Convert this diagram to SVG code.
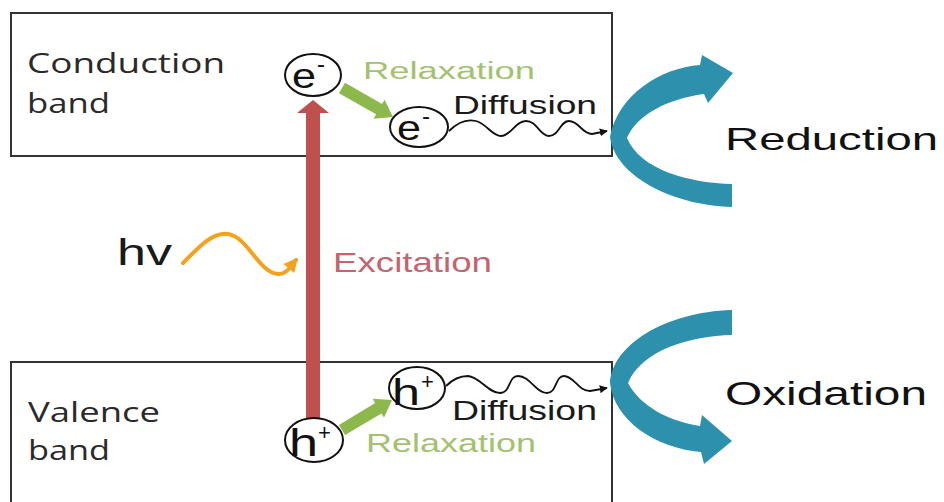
<svg xmlns="http://www.w3.org/2000/svg" width="944" height="502" viewBox="0 0 944 502">
<style>
.box{fill:#fff;stroke:#333;stroke-width:2}
.band{font-family:"Open Sans","DejaVu Sans",sans-serif;font-size:27px;fill:#2a2a2a}
.lbl{font-family:"Liberation Sans",Arial,sans-serif}
.pc{fill:#fff;stroke:#111;stroke-width:2}
.ch{font-family:"Liberation Sans",Arial,sans-serif;fill:#111}
.wave{fill:none;stroke:#111;stroke-width:1.8}
.green{fill:#8cb84c}
.blue{fill:#2d91ae}
</style>
<defs>
<marker id="blk" viewBox="0 0 10 10" refX="9" refY="5" markerWidth="8" markerHeight="8" orient="auto" markerUnits="userSpaceOnUse">
<path d="M0,0 L10,5 L0,10 Z" fill="#111"/>
</marker>
<marker id="org" viewBox="0 0 10 10" refX="8" refY="5" markerWidth="16" markerHeight="14" orient="auto" markerUnits="userSpaceOnUse">
<path d="M0,0 L10,5 L0,10 Z" fill="#f4a11d"/>
</marker>
</defs>

<g id="conduction-band">
<rect class="box" x="11" y="13" width="601" height="143"/>
<text class="band" x="27" y="73" textLength="198" lengthAdjust="spacingAndGlyphs">Conduction</text>
<text class="band" x="27" y="113" textLength="83" lengthAdjust="spacingAndGlyphs">band</text>
</g>
<g id="valence-band">
<rect class="box" x="11" y="362" width="601" height="145"/>
<text class="band" x="28" y="422" textLength="132" lengthAdjust="spacingAndGlyphs">Valence</text>
<text class="band" x="28" y="460" textLength="82" lengthAdjust="spacingAndGlyphs">band</text>
</g>

<g id="connectors">
<path id="excitation-arrow" d="M306,419 L306,113 L297,113 L313,100 L329,113 L320,113 L320,419 Z" fill="#c0504d"/>
<polygon id="relax-e" class="green" points="345.0,82.8 382.1,103.9 384.5,99.7 393,117 373.7,118.7 376.1,114.3 339.0,93.2"/>
<polygon id="relax-h" class="green" points="338.9,424.9 375.2,403.1 372.6,398.8 392,400 384.0,417.6 381.4,413.4 345.1,435.1"/>
<path id="diff-e" class="wave" marker-end="url(#blk)" d="M449,131 C458,122 468,119 476,121 C487,124 492,136 501,136 C511,136 515,121 526,121 C537,121 540,136 549,136 C559,136 560,121 569,121 C579,121 582,134 592,134 L607,131"/>
<path id="diff-h" class="wave" marker-end="url(#blk)" d="M446,386 C454,378 462,376 468,376 C480,377 488,393 500,393 C511,393 508,376 518,376 C530,376 536,393 547,393 C557,393 555,376 564,376 C574,376 578,391 590,391 L607,388"/>
<path id="photon" d="M183,263 C198,248 212,232 228,234 C248,237 258,272 278,274 C286,275 291,266 296,260" fill="none" stroke="#f4a11d" stroke-width="4" stroke-linecap="round" marker-end="url(#org)"/>
<path id="reduction-arrow" class="blue" d="M732,184 C690,183 640,170 627,138 C636,116 666,99 704,94 L708,103 L733,73 L702,55 L700,65 C660,68 618,95 610,137 C615,175 670,205 732,207 Z"/>
<path id="oxidation-arrow" class="blue" d="M732,335 C690,336 642,350 628,383 C641,407 669,421 700,426 L702,415 L732,441 L704,464 L701,452 C655,448 614,420 610,383 C612,345 665,312 732,310 Z"/>
</g>

<g id="electron-excited">
<ellipse class="pc" cx="313" cy="75" rx="28" ry="21"/>
<text class="ch" x="292" y="88" font-size="35" textLength="24" lengthAdjust="spacingAndGlyphs">e</text>
<text class="ch" x="317" y="72" font-size="24">-</text>
</g>
<g id="electron-relaxed">
<ellipse class="pc" cx="419" cy="127" rx="29" ry="20"/>
<text class="ch" x="397" y="140" font-size="35" textLength="24" lengthAdjust="spacingAndGlyphs">e</text>
<text class="ch" x="422" y="124" font-size="24">-</text>
</g>
<g id="hole-initial">
<ellipse class="pc" cx="314" cy="440" rx="29" ry="22"/>
<text class="ch" x="289" y="456" font-size="38" textLength="29" lengthAdjust="spacingAndGlyphs">h</text>
<text class="ch" x="318" y="440" font-size="22">+</text>
</g>
<g id="hole-relaxed">
<ellipse class="pc" cx="417" cy="388" rx="28" ry="21"/>
<text class="ch" x="392" y="405" font-size="36" textLength="28" lengthAdjust="spacingAndGlyphs">h</text>
<text class="ch" x="421" y="389" font-size="22">+</text>
</g>

<g id="labels">
<text class="lbl" x="363" y="79" font-size="23" fill="#a3c270" textLength="172" lengthAdjust="spacingAndGlyphs">Relaxation</text>
<text class="lbl" x="453" y="114" font-size="26" fill="#1a1a1a" textLength="144" lengthAdjust="spacingAndGlyphs">Diffusion</text>
<text class="lbl" x="452" y="420" font-size="27" fill="#1a1a1a" textLength="145" lengthAdjust="spacingAndGlyphs">Diffusion</text>
<text class="lbl" x="366" y="452" font-size="25" fill="#a3c270" textLength="170" lengthAdjust="spacingAndGlyphs">Relaxation</text>
<text class="lbl" x="333" y="272" font-size="28" fill="#c4646e" textLength="159" lengthAdjust="spacingAndGlyphs">Excitation</text>
<text class="lbl" x="117" y="265" font-size="37" fill="#1a1a1a" textLength="55" lengthAdjust="spacingAndGlyphs">hv</text>
<text class="lbl" x="725" y="150" font-size="32" fill="#111" textLength="213" lengthAdjust="spacingAndGlyphs">Reduction</text>
<text class="lbl" x="725" y="405" font-size="33" fill="#111" textLength="202" lengthAdjust="spacingAndGlyphs">Oxidation</text>
</g>
</svg>
